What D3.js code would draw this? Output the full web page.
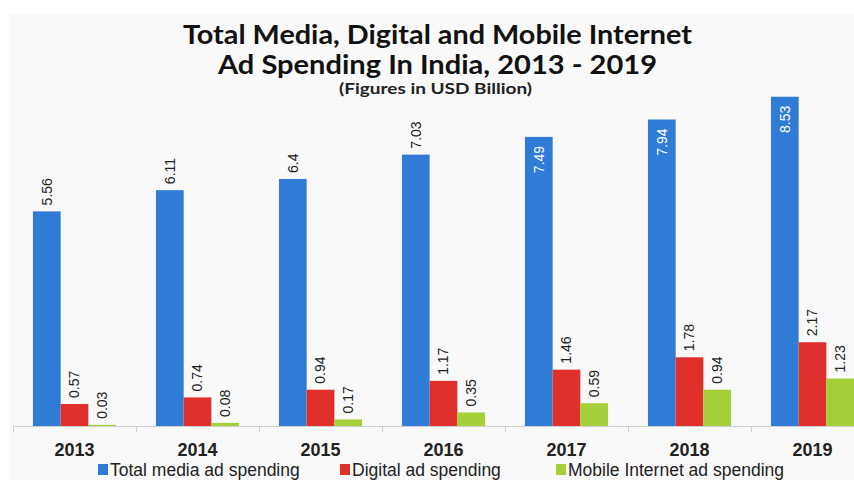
<!DOCTYPE html>
<html>
<head>
<meta charset="utf-8">
<script src="https://cdn.jsdelivr.net/npm/d3@7"></script>
<style>
  html, body { margin: 0; padding: 0; background: #ffffff; }
  svg { display: block; }
</style>
</head>
<body>
<div id="viz"></div>
<script>
// Chart data (USD billion)
const years = ['2013', '2014', '2015', '2016', '2017', '2018', '2019'];
const totalMedia = [5.56, 6.11, 6.4, 7.03, 7.49, 7.94, 8.53];
const digitalAd = [0.57, 0.74, 0.94, 1.17, 1.46, 1.78, 2.17];
const mobileAd = [0.03, 0.08, 0.17, 0.35, 0.59, 0.94, 1.23];
const seriesNames = ['Total media ad spending', 'Digital ad spending', 'Mobile Internet ad spending'];
const seriesColors = ['#2f7bd6', '#e0302c', '#a5cf39'];

const width = 854;
const height = 480;
const baseline = 426;

const svg = d3.select('#viz')
    .append('svg')
    .attr('width', width)
    .attr('height', height);

// light panel behind the chart
svg.append('rect')
    .attr('x', 9)
    .attr('y', 14)
    .attr('width', width - 9)
    .attr('height', height - 14)
    .attr('fill', '#f9f9f9');

// Title (stretched a little to the reference's width)
const titleFont = 'Lato, "Open Sans", sans-serif';
svg.append('text')
    .attr('x', 183).attr('y', 44)
    .attr('textLength', 509)
    .attr('lengthAdjust', 'spacingAndGlyphs')
    .style('font-family', titleFont)
    .style('font-weight', 'bold')
    .style('font-size', '26px')
    .attr('fill', '#111')
    .text('Total Media, Digital and Mobile Internet');

svg.append('text')
    .attr('x', 218).attr('y', 74)
    .attr('textLength', 439)
    .attr('lengthAdjust', 'spacingAndGlyphs')
    .style('font-family', titleFont)
    .style('font-weight', 'bold')
    .style('font-size', '26px')
    .attr('fill', '#111')
    .text('Ad Spending In India, 2013 - 2019');

svg.append('text')
    .attr('x', 339).attr('y', 94)
    .attr('textLength', 193)
    .attr('lengthAdjust', 'spacingAndGlyphs')
    .style('font-family', titleFont)
    .style('font-weight', 'bold')
    .style('font-size', '15px')
    .attr('fill', '#222')
    .text('(Figures in USD Billion)');

// Scales
const xScale = d3.scaleBand()
    .domain(years)
    .range([13, 13 + 123 * years.length])
    .padding(0);

const xInner = d3.scaleBand()
    .domain(seriesNames)
    .range([0, xScale.bandwidth()])
    .paddingInner(0)
    .paddingOuter(0.72);

const yScale = d3.scaleLinear()
    .domain([0, 10])
    .range([baseline, baseline - 386]);

// Build rows from the arrays
const rows = years.map((year, i) => ({
    year: year,
    values: [totalMedia[i], digitalAd[i], mobileAd[i]]
}));

// x axis: gray line with ticks at category boundaries
const axis = svg.append('g').attr('class', 'x-axis');
axis.append('line')
    .attr('x1', 13).attr('x2', width)
    .attr('y1', baseline + 0.5).attr('y2', baseline + 0.5)
    .attr('stroke', '#cfcfcf');

axis.selectAll('.tick')
    .data(years)
    .enter()
    .append('line')
    .attr('class', 'tick')
    .attr('x1', d => xScale(d) + 0.5)
    .attr('x2', d => xScale(d) + 0.5)
    .attr('y1', baseline)
    .attr('y2', baseline + 6)
    .attr('stroke', '#cfcfcf');

axis.selectAll('.year')
    .data(years)
    .enter()
    .append('text')
    .attr('class', 'year')
    .attr('x', d => xScale(d) + xScale.bandwidth() / 2)
    .attr('y', 456)
    .attr('text-anchor', 'middle')
    .style('font-family', '"Liberation Sans", Arial, sans-serif')
    .style('font-weight', 'bold')
    .style('font-size', '18px')
    .attr('fill', '#222')
    .text(d => d);

// Bars
const groups = svg.selectAll('.group')
    .data(rows)
    .enter()
    .append('g')
    .attr('class', 'group')
    .attr('transform', d => `translate(${xScale(d.year)},0)`);

groups.selectAll('rect')
    .data(d => d.values.map((v, j) => ({ name: seriesNames[j], value: v, idx: j })))
    .enter()
    .append('rect')
    .attr('x', d => xInner(d.name))
    .attr('y', d => yScale(d.value))
    .attr('width', xInner.bandwidth())
    .attr('height', d => baseline - yScale(d.value))
    .attr('fill', d => seriesColors[d.idx]);

// Value labels, rotated; placed inside the bar when there's no room above
groups.selectAll('.label')
    .data(d => d.values.map((v, j) => ({ name: seriesNames[j], value: v, idx: j })))
    .enter()
    .append('text')
    .attr('class', 'label')
    .each(function (d) {
        const inside = yScale(d.value) - 36 < 105;
        const cx = xInner(d.name) + xInner.bandwidth() / 2;
        const y = inside ? yScale(d.value) + 9 : yScale(d.value) - 6;
        d3.select(this)
            .attr('transform', `translate(${cx},${y}) rotate(-90)`)
            .attr('text-anchor', inside ? 'end' : 'start')
            .attr('dy', '0.35em')
            .attr('fill', inside ? '#ffffff' : '#222');
    })
    .style('font-family', '"Liberation Sans", Arial, sans-serif')
    .style('font-size', '14px')
    .text(d => d.value);

// Legend
const legendX = [98, 340, 556];
const legend = svg.selectAll('.legend')
    .data(seriesNames)
    .enter()
    .append('g')
    .attr('class', 'legend')
    .attr('transform', (d, i) => `translate(${legendX[i]},464)`);

legend.append('rect')
    .attr('width', 10)
    .attr('height', 11)
    .attr('fill', (d, i) => seriesColors[i]);

legend.append('text')
    .attr('x', 12)
    .attr('y', 12)
    .style('font-family', '"Liberation Sans", Arial, sans-serif')
    .style('font-size', '17.5px')
    .attr('fill', '#222')
    .text(d => d);
</script>
</body>
</html>
